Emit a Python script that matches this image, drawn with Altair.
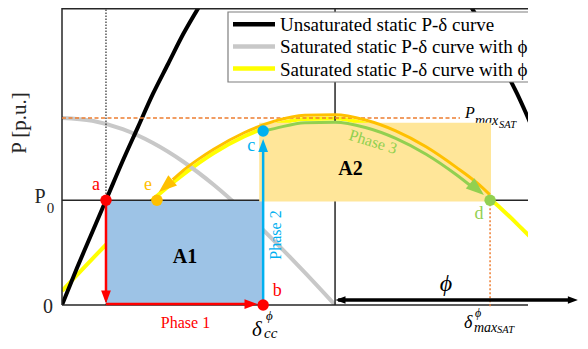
import altair as alt
import pandas as pd

# ---------------- values ----------------
# unsaturated static P-delta curve (black)
unsat_delta = [0, 5, 10, 15, 20, 25, 30, 35, 40, 45, 50, 55, 90, 125, 130, 135, 140, 145, 150, 155]
unsat_p = [0.0, 0.20, 0.39, 0.58, 0.77, 0.95, 1.13, 1.29, 1.45, 1.59, 1.72, 1.84, 2.25,
           1.84, 1.72, 1.59, 1.45, 1.29, 1.13, 0.95]

# saturated curve, first phi (grey)
ref_delta = [0, 10, 20, 30, 40, 50, 60, 70, 80, 90]
ref_p = [1.0, 0.985, 0.94, 0.866, 0.766, 0.643, 0.5, 0.342, 0.174, 0.0]

# saturated curve, second phi (yellow)
sat_delta = [0, 10, 20, 30, 40, 50, 60, 70, 80, 90, 100, 110, 120, 130, 140, 150, 155]
sat_p = [0.075, 0.247, 0.412, 0.564, 0.698, 0.812, 0.901, 0.963, 0.995, 0.997,
         0.969, 0.911, 0.826, 0.716, 0.584, 0.434, 0.353]

# phase 3 trajectory c -> d (green)
phase3_delta = [66.3, 70, 80, 90, 100, 110, 120, 130, 136]
phase3_p = [0.93, 0.943, 0.975, 0.977, 0.949, 0.891, 0.806, 0.696, 0.62]

# return trajectory d -> e (orange)
return_delta = [36.5, 40, 45, 50, 60, 70, 80, 90, 100, 110, 120, 130, 137, 141]
return_p = [0.67, 0.72, 0.78, 0.833, 0.921, 0.983, 1.015, 1.017, 0.989, 0.931, 0.846, 0.736, 0.65, 0.59]

P0 = 0.56
P_MAX_SAT = 1.0
P_C = 0.93
DELTA_A = 14.5
DELTA_E = 31.3
DELTA_CC = 66.3
DELTA_90 = 90.0
DELTA_MAX_SAT = 141.1

point_names = ["a", "b", "c", "d", "e"]
point_delta = [DELTA_A, DELTA_CC, DELTA_CC, DELTA_MAX_SAT, DELTA_E]
point_p = [P0, 0.0, P_C, P0, P0]

legend_labels = ["Unsaturated static P-δ curve",
                 "Saturated static P-δ curve with ϕ",
                 "Saturated static P-δ curve with ϕ"]

# ---------------- styling ----------------
SERIF = "Liberation Serif"
BLACK = "#000000"
AXC = "#262626"
GREY = "#C8C8C8"
YELLOW = "#FFFF00"
ORANGE = "#FFC000"
DORANGE = "#ED7D31"
GREEN = "#92D050"
BLUE = "#00B0F0"
RED = "#FF0000"
A1C = "#9DC3E6"
A2C = "#FFE699"
legend_colors = [BLACK, GREY, YELLOW]

W, H = 466, 297
XMAX, YMAX = 153.6, 1.588
OX, OY = 62, 8     # page position of the plot origin (top-left)

xsc = alt.Scale(domain=[0, XMAX], nice=False, zero=False)
ysc = alt.Scale(domain=[0, YMAX], nice=False, zero=False)
X = alt.X("d:Q", scale=xsc, axis=None)
Y = alt.Y("p:Q", scale=ysc, axis=None)
ONE = pd.DataFrame({"k": [0]})

layers = []


def curve(dl, pl, color, width, clip=True):
    df = pd.DataFrame({"d": dl, "p": pl})
    return alt.Chart(df).mark_line(color=color, strokeWidth=width, interpolate="monotone",
                                   clip=clip).encode(x=X, y=Y)


def hrule(p, d1, d2, color, width, dash=None):
    df = pd.DataFrame({"p": [p], "d": [d1], "d2": [d2]})
    kw = {"strokeDash": dash} if dash else {}
    return alt.Chart(df).mark_rule(color=color, strokeWidth=width, clip=False, **kw).encode(
        x=X, x2=alt.X2("d2:Q"), y=Y)


def vrule(d, p1, p2, color, width, dash=None):
    df = pd.DataFrame({"d": [d], "p": [p1], "p2": [p2]})
    kw = {"strokeDash": dash} if dash else {}
    return alt.Chart(df).mark_rule(color=color, strokeWidth=width, clip=False, **kw).encode(
        x=X, y=Y, y2=alt.Y2("p2:Q"))


def box(d1, d2, p1, p2, color):
    df = pd.DataFrame({"d": [d1], "d2": [d2], "p": [p1], "p2": [p2]})
    return alt.Chart(df).mark_rect(color=color, opacity=1).encode(
        x=X, x2=alt.X2("d2:Q"), y=Y, y2=alt.Y2("p2:Q"))


ARROW = "M1,0L-1,-0.75L-1,0.75Z"


def head(d, p, angle, size, color):
    df = pd.DataFrame({"d": [d], "p": [p], "a": [angle]})
    return alt.Chart(df).mark_point(shape=ARROW, filled=True, size=size, color=color, opacity=1,
                                    strokeWidth=0, clip=False).encode(
        x=X, y=Y, angle=alt.Angle("a:Q", scale=None))


def label(text, px, py, size, color=BLACK, style="normal", weight="normal", angle=0,
          align="center", baseline="middle", clip=False):
    return alt.Chart(ONE).mark_text(text=text, fontSize=size, color=color, fontStyle=style,
                                    fontWeight=weight, angle=angle, align=align, baseline=baseline,
                                    font=SERIF, clip=clip).encode(
        x=alt.value(px - OX), y=alt.value(py - OY))


# curves under the areas
layers.append(curve(sat_delta, sat_p, YELLOW, 4))
layers.append(curve(ref_delta, ref_p, GREY, 4))
layers.append(box(DELTA_A, DELTA_CC, 0.0, P0, A1C))
layers.append(curve(unsat_delta, unsat_p, BLACK, 4))

# frame / guide lines
layers.append(vrule(0, 0, YMAX, AXC, 1.5))
layers.append(vrule(DELTA_A, 0, YMAX, BLACK, 1, [1.5, 1.5]))
layers.append(vrule(DELTA_90, 0, YMAX, AXC, 1.5))
layers.append(hrule(YMAX - 0.004, 0, XMAX, AXC, 1.5))
layers.append(hrule(P0, 0, XMAX, AXC, 1.5))
layers.append(hrule(0, 0, XMAX, AXC, 1.5))

# P_max_SAT label (partly under A2)
layers.append(label("P", 465, 118, 16, style="italic", align="left", baseline="alphabetic"))
layers.append(label("max", 475, 125, 14, style="italic", align="left", baseline="alphabetic"))
layers.append(label("SAT", 499, 128, 10.5, style="italic", align="left", baseline="alphabetic"))

layers.append(box(65.0, 141.4, 0.553, 0.975, A2C))

layers.append(hrule(P_MAX_SAT, 0, 131.2, DORANGE, 1.5, [4, 2.5]))
layers.append(vrule(DELTA_MAX_SAT, P0, -0.012, DORANGE, 1.5, [2, 2]))

# trajectories
layers.append(curve(return_delta, return_p, ORANGE, 3, clip=False))
layers.append(curve(phase3_delta, phase3_p, GREEN, 3, clip=False))
layers.append(vrule(DELTA_A, P0, 0.03, RED, 2.5))
layers.append(hrule(0.005, DELTA_A, 61.0, RED, 2.5))
layers.append(vrule(DELTA_CC, 0, 0.85, BLUE, 2.5))
layers.append(hrule(0.027, 91.0, 167.0, BLACK, 3.5))

# arrow heads
layers.append(head(DELTA_A, 0.043, 90, 169, RED))
layers.append(head(62.3, 0.005, 0, 169, RED))
layers.append(head(DELTA_CC, 0.853, 270, 169, BLUE))
layers.append(head(34.2, 0.635, 140, 324, ORANGE))
layers.append(head(136.8, 0.619, 40, 324, GREEN))
layers.append(head(91.8, 0.027, 180, 100, BLACK))
layers.append(head(168.4, 0.027, 0, 100, BLACK))

# points
pt_colors = [RED, RED, BLUE, GREEN, ORANGE]
pts = pd.DataFrame({"d": point_delta, "p": point_p, "n": point_names, "c": pt_colors})
layers.append(alt.Chart(pts).mark_circle(size=130, opacity=1).encode(
    x=X, y=Y, color=alt.Color("c:N", scale=None)))
offs = {"a": (-10, -15), "b": (14, -14), "c": (-12, 15), "d": (-11, 14), "e": (-9, -15)}
for n, d, p, c in zip(point_names, point_delta, point_p, pt_colors):
    dx, dy = offs[n]
    df = pd.DataFrame({"d": [d], "p": [p], "t": [n]})
    layers.append(alt.Chart(df).mark_text(fontSize=18, font=SERIF, color=c, dx=dx, dy=dy).encode(
        x=X, y=Y, text="t:N"))

# legend
layers.append(alt.Chart(ONE).mark_rect(fill="white", stroke="#7F7F7F", strokeWidth=1.2, clip=True).encode(
    x=alt.value(228 - OX), x2=alt.value(560 - OX), y=alt.value(12 - OY), y2=alt.value(82 - OY)))
for i, (lab, col) in enumerate(zip(legend_labels, legend_colors)):
    ry = 24.3 + 22.1 * i
    layers.append(alt.Chart(ONE).mark_rule(color=col, strokeWidth=4.5, clip=True).encode(
        x=alt.value(233 - OX), x2=alt.value(275 - OX), y=alt.value(ry - OY)))
    layers.append(label(lab, 280, ry + 1, 19, align="left", clip=True))

# axis-like labels
layers.append(label("P [p.u.]", 20, 123, 21, color=AXC, angle=270))
layers.append(label("P", 40, 197, 20, color=AXC))
layers.append(label("0", 50.5, 208, 15, color=AXC))
layers.append(label("0", 48, 307, 20, color=AXC))

# annotations
layers.append(label("Phase 1", 185.5, 322.5, 16, color=RED))
layers.append(label("Phase 2", 276, 235, 16, color=BLUE, angle=270))
layers.append(label("Phase 3", 373, 142, 16, color=GREEN, angle=17))
layers.append(label("A1", 185, 257, 20, weight="bold"))
layers.append(label("A2", 350.5, 168.5, 20, weight="bold"))
layers.append(label("ϕ", 446, 284, 24, style="italic"))

layers.append(label("δ", 252, 336, 21, style="italic", align="left", baseline="alphabetic"))
layers.append(label("ϕ", 266, 320, 13, style="italic", align="left", baseline="alphabetic"))
layers.append(label("cc", 264, 338, 15, style="italic", align="left", baseline="alphabetic"))

layers.append(label("δ", 464, 328, 18, style="italic", align="left", baseline="alphabetic"))
layers.append(label("ϕ", 475, 317, 12, style="italic", align="left", baseline="alphabetic"))
layers.append(label("max", 474, 332, 14, style="italic", align="left", baseline="alphabetic"))
layers.append(label("SAT", 497, 333, 10.5, style="italic", align="left", baseline="alphabetic"))

chart = alt.layer(*layers).properties(
    width=W, height=H,
    padding={"left": OX - 8, "top": OY - 8, "right": 572 - (OX - 8) - W, "bottom": 333 - H},
    autosize=alt.AutoSizeParams(type="none"),
).configure_view(stroke=None)

chart.save("out.html", embed_options={"renderer": "svg", "actions": False})
